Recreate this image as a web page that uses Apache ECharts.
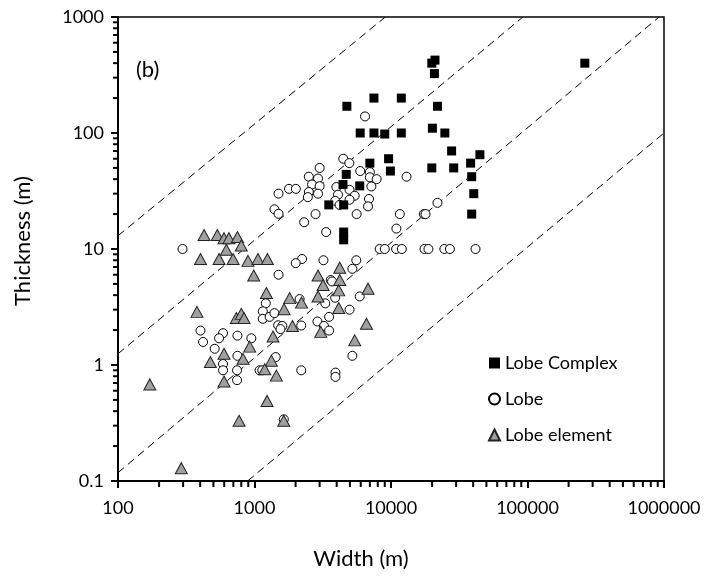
<!DOCTYPE html>
<html><head><meta charset="utf-8">
<script src="https://cdn.jsdelivr.net/npm/echarts@6/dist/echarts.min.js"></script>
<style>html,body{margin:0;padding:0;background:#fff}#c{width:705px;height:577px}</style>
</head><body><div id="c"></div>
<script>
// Axis tick labels
const xTicks = [100, 1000, 10000, 100000, 1000000];
const yTicks = [0.1, 1, 10, 100, 1000];
// Minor tick multipliers inside each decade
const minorMult = [2, 3, 4, 5, 6, 7, 8, 9];

// Series: [width (m), thickness (m)]
const lobeComplex = [
  [19900, 400], [21000, 425], [20800, 325], [263000, 400], [4750, 170], [7500, 200],
  [11900, 200], [21900, 170], [5950, 100], [7500, 100], [9000, 98], [11900, 100],
  [20100, 110], [24800, 100], [27800, 70], [44800, 65], [38300, 55], [19900, 50],
  [28800, 50], [39000, 42], [40400, 30], [39000, 20], [9600, 60], [9900, 47],
  [7000, 55], [4700, 44], [4450, 36], [5900, 35], [3500, 24], [4500, 24],
  [4500, 14], [4500, 12]
];

const lobe = [
  [6450, 139], [4470, 60], [4950, 55], [3000, 50], [5950, 47], [7000, 46], [2500, 42],
  [2920, 40.5], [7000, 41.5], [7850, 40], [13000, 42], [2640, 36], [3000, 34.8],
  [2500, 31], [2920, 30], [1790, 33], [2010, 33], [1500, 30], [2460, 28], [3980, 34.2],
  [4090, 29.4], [4970, 32.4], [5420, 28.8], [4970, 26.6], [7180, 34.6], [6900, 27],
  [6790, 23.3], [1400, 22], [1500, 20.1], [2800, 20], [5600, 20], [2310, 17],
  [3350, 14], [11600, 20], [17400, 20], [17900, 20], [21900, 25], [10950, 15],
  [3900, 26], [4200, 24],
  [297, 10], [8260, 10], [9000, 10], [10900, 10], [12000, 10], [17600, 10], [18800, 10],
  [24600, 10], [27000, 10], [41600, 10],
  [2230, 8.2], [2005, 7.55], [3200, 8.0], [5570, 8.0], [5210, 6.75], [1500, 6.0],
  [3620, 5.4], [3700, 5.25], [3900, 3.8], [2140, 3.7], [3300, 3.4], [5900, 3.9],
  [4970, 3.0], [1210, 3.4], [1150, 2.9], [1150, 2.5], [1290, 2.6], [1400, 2.8],
  [1490, 2.2], [1600, 2.17], [1550, 2.04], [2200, 2.19], [2890, 2.37], [3230, 2.17],
  [3520, 1.98], [3520, 2.6], [402, 1.98], [420, 1.58], [588, 1.88], [550, 1.70],
  [511, 1.38], [750, 1.79], [948, 1.70], [750, 1.2], [588, 1.02], [588, 0.9],
  [745, 0.9], [745, 0.74], [1090, 0.9], [1140, 0.9], [1430, 1.17], [2200, 0.9],
  [3920, 0.86], [3920, 0.79], [5210, 1.2], [1640, 0.34]
];

const lobeElement = [
  [427, 13.2], [534, 13.2], [598, 12.4], [650, 12.4], [750, 12.7], [800, 10.7],
  [622, 9.85], [402, 8.2], [550, 8.2], [697, 8.2], [896, 7.9], [1060, 8.2],
  [1243, 8.2], [987, 5.9],
  [1222, 4.17], [1810, 3.77], [2210, 3.45], [1647, 3.03], [379, 2.87], [736, 2.54],
  [801, 2.76], [838, 2.54], [1897, 2.17], [1367, 1.76], [922, 1.44], [598, 1.25],
  [824, 1.13], [475, 1.06], [1330, 1.09], [1188, 0.92], [1446, 0.81], [598, 0.72],
  [2920, 5.9], [3180, 4.9], [4210, 6.9], [4210, 5.4], [4140, 4.4], [2920, 3.9],
  [4140, 3.1], [3060, 1.93], [6790, 4.55], [6610, 2.27], [5420, 1.63], [171, 0.68],
  [291, 0.129], [771, 0.331], [1236, 0.49], [1638, 0.331]
];

// Dashed reference lines (end points)
const refLines = [
  [[100, 13], [9080, 1000]],
  [[100, 1.25], [92500, 1000]],
  [[100, 0.118], [920000, 1000]],
  [[891, 0.1], [1000000, 100]]
];

const FONT = 'Lato';
const xMin = xTicks[0], xMax = xTicks[xTicks.length - 1];
const yMin = yTicks[0], yMax = yTicks[yTicks.length - 1];

// minor tick values built from decades x multipliers
const xMinor = [];
xTicks.slice(0, -1).forEach(d => minorMult.forEach(m => xMinor.push(+(d * m).toPrecision(6))));
const yMinor = [];
yTicks.slice(0, -1).forEach(d => minorMult.forEach(m => yMinor.push(+(d * m).toPrecision(6))));

const chart = echarts.init(document.getElementById('c'));

const lineSeries = refLines.map((pts, i) => ({
  name: 'ref' + i,
  type: 'line',
  data: pts,
  symbol: 'none',
  silent: true,
  clip: true,
  z: 1,
  lineStyle: {color: '#000', width: 1, type: [8, 5]}
}));

const tickSeries = [
  {
    type: 'custom', clip: false, z: 10,
    data: xMinor.map(v => [v, yMin]),
    renderItem: (params, api) => {
      const p = api.coord([api.value(0), api.value(1)]);
      return {type: 'line', shape: {x1: p[0], y1: p[1], x2: p[0], y2: p[1] + 6},
              style: {stroke: '#000', lineWidth: 2}};
    }
  },
  {
    type: 'custom', clip: false, z: 10,
    data: yMinor.map(v => [xMin, v]),
    renderItem: (params, api) => {
      const p = api.coord([api.value(0), api.value(1)]);
      return {type: 'line', shape: {x1: p[0], y1: p[1], x2: p[0] - 5, y2: p[1]},
              style: {stroke: '#000', lineWidth: 2}};
    }
  }
];

const axisCommon = {
  type: 'log',
  logBase: 10,
  axisLine: {show: true, onZero: false, lineStyle: {color: '#000', width: 2}},
  axisTick: {show: true, length: 7, lineStyle: {color: '#000', width: 2}},
  splitLine: {show: false},
  axisLabel: {color: '#000', fontFamily: FONT, fontSize: 18, formatter: v => String(v)}
};

chart.setOption({
  animation: false,
  backgroundColor: '#fff',
  grid: {left: 118, right: 41, top: 17, bottom: 96, show: true, borderColor: '#000', borderWidth: 1.5},
  xAxis: Object.assign({}, axisCommon, {
    min: xMin, max: xMax,
    axisLabel: Object.assign({}, axisCommon.axisLabel, {margin: 18})
  }),
  yAxis: Object.assign({}, axisCommon, {
    min: yMin, max: yMax,
    axisLabel: Object.assign({}, axisCommon.axisLabel, {margin: 14})
  }),
  legend: {
    data: ['Lobe Complex', 'Lobe', 'Lobe element'],
    orient: 'vertical',
    left: 483, top: 349,
    itemGap: 18,
    itemWidth: 11, itemHeight: 11,
    textStyle: {color: '#000', fontFamily: FONT, fontSize: 18},
    selectedMode: false
  },
  graphic: [
    {type: 'text', left: 136, top: 59, style: {text: '(b)', fontFamily: FONT, fontSize: 22, fill: '#000'}},
    {type: 'text', x: 361, y: 559, style: {text: 'Width (m)', fontFamily: FONT, fontSize: 22, fill: '#000', align: 'center', verticalAlign: 'middle'}},
    {type: 'text', x: 23, y: 241, rotation: Math.PI / 2, style: {text: 'Thickness (m)', fontFamily: FONT, fontSize: 22, fill: '#000', align: 'center', verticalAlign: 'middle'}}
  ],
  series: lineSeries.concat(tickSeries, [
    {
      name: 'Lobe', type: 'scatter', data: lobe, symbol: 'circle', symbolSize: 9, z: 2,
      itemStyle: {color: '#fff', borderColor: '#000', borderWidth: 1, opacity: 1}
    },
    {
      name: 'Lobe element', type: 'scatter', data: lobeElement, symbol: 'triangle', symbolSize: [12, 11], z: 3,
      itemStyle: {color: '#a0a0a0', borderColor: '#222', borderWidth: 1, opacity: 1}
    },
    {
      name: 'Lobe Complex', type: 'scatter', data: lobeComplex, symbol: 'rect', symbolSize: 9, z: 4,
      itemStyle: {color: '#000', borderColor: '#000', borderWidth: 0, opacity: 1}
    }
  ])
});
</script>
</body></html>
